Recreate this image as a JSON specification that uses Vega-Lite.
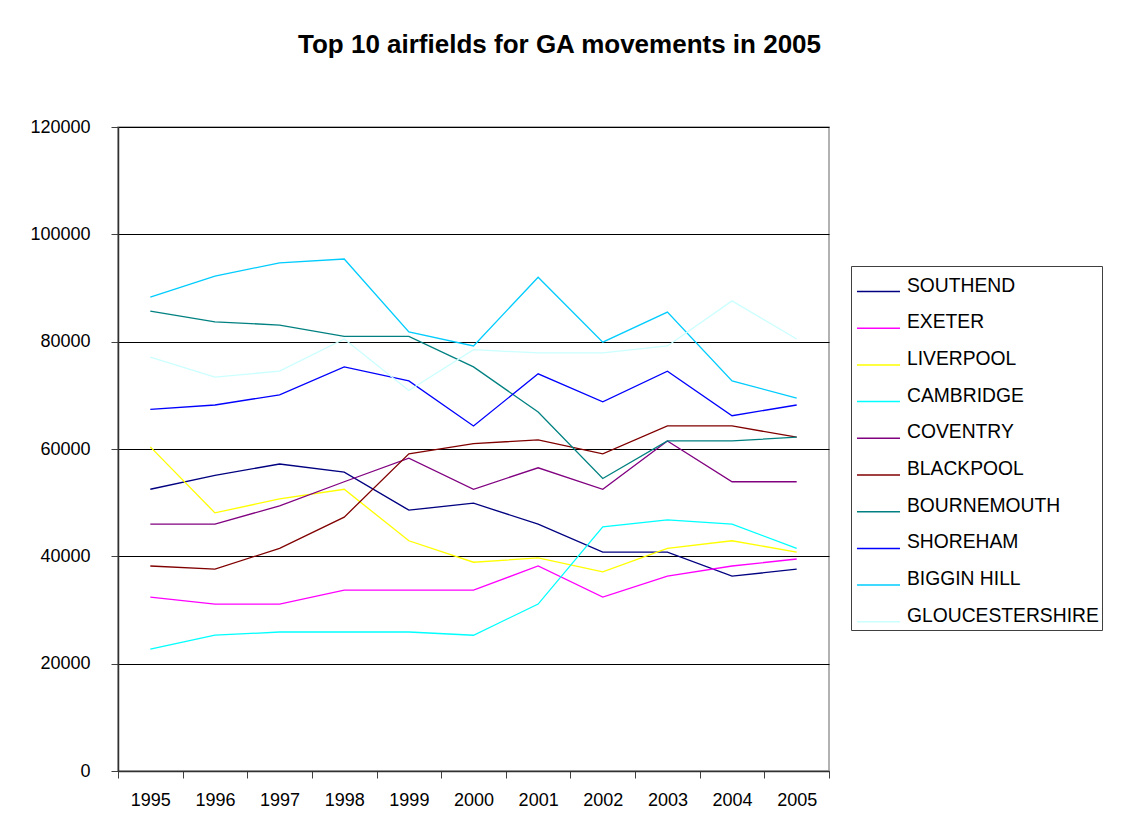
{
  "$schema": "https://vega.github.io/schema/vega-lite/v6.json",
  "autosize": {"type": "none"},
  "padding": {"left": 118, "top": 127, "right": 302, "bottom": 61},
  "width": 711,
  "height": 644,
  "background": "white",
  "title": {
    "text": "Top 10 airfields for GA movements in 2005",
    "font": "Liberation Sans",
    "fontSize": 26,
    "fontWeight": "bold",
    "color": "black",
    "anchor": "middle",
    "frame": "group",
    "dx": 86,
    "baseline": "alphabetic",
    "offset": 39
  },
  "config": {
    "font": "Liberation Sans",
    "view": {"stroke": "#999999", "strokeWidth": 1.5}
  },
  "data": {
    "values": [
      {"airfield": "SOUTHEND", "year": "1995", "movements": 52500},
      {"airfield": "SOUTHEND", "year": "1996", "movements": 55100},
      {"airfield": "SOUTHEND", "year": "1997", "movements": 57200},
      {"airfield": "SOUTHEND", "year": "1998", "movements": 55700},
      {"airfield": "SOUTHEND", "year": "1999", "movements": 48600},
      {"airfield": "SOUTHEND", "year": "2000", "movements": 49900},
      {"airfield": "SOUTHEND", "year": "2001", "movements": 46000},
      {"airfield": "SOUTHEND", "year": "2002", "movements": 40800},
      {"airfield": "SOUTHEND", "year": "2003", "movements": 40800},
      {"airfield": "SOUTHEND", "year": "2004", "movements": 36300},
      {"airfield": "SOUTHEND", "year": "2005", "movements": 37600},
      {"airfield": "EXETER", "year": "1995", "movements": 32400},
      {"airfield": "EXETER", "year": "1996", "movements": 31100},
      {"airfield": "EXETER", "year": "1997", "movements": 31100},
      {"airfield": "EXETER", "year": "1998", "movements": 33700},
      {"airfield": "EXETER", "year": "1999", "movements": 33700},
      {"airfield": "EXETER", "year": "2000", "movements": 33700},
      {"airfield": "EXETER", "year": "2001", "movements": 38200},
      {"airfield": "EXETER", "year": "2002", "movements": 32400},
      {"airfield": "EXETER", "year": "2003", "movements": 36300},
      {"airfield": "EXETER", "year": "2004", "movements": 38200},
      {"airfield": "EXETER", "year": "2005", "movements": 39500},
      {"airfield": "LIVERPOOL", "year": "1995", "movements": 60400},
      {"airfield": "LIVERPOOL", "year": "1996", "movements": 48100},
      {"airfield": "LIVERPOOL", "year": "1997", "movements": 50700},
      {"airfield": "LIVERPOOL", "year": "1998", "movements": 52500},
      {"airfield": "LIVERPOOL", "year": "1999", "movements": 42900},
      {"airfield": "LIVERPOOL", "year": "2000", "movements": 38900},
      {"airfield": "LIVERPOOL", "year": "2001", "movements": 39700},
      {"airfield": "LIVERPOOL", "year": "2002", "movements": 37100},
      {"airfield": "LIVERPOOL", "year": "2003", "movements": 41500},
      {"airfield": "LIVERPOOL", "year": "2004", "movements": 42900},
      {"airfield": "LIVERPOOL", "year": "2005", "movements": 40800},
      {"airfield": "CAMBRIDGE", "year": "1995", "movements": 22700},
      {"airfield": "CAMBRIDGE", "year": "1996", "movements": 25300},
      {"airfield": "CAMBRIDGE", "year": "1997", "movements": 25900},
      {"airfield": "CAMBRIDGE", "year": "1998", "movements": 25900},
      {"airfield": "CAMBRIDGE", "year": "1999", "movements": 25900},
      {"airfield": "CAMBRIDGE", "year": "2000", "movements": 25300},
      {"airfield": "CAMBRIDGE", "year": "2001", "movements": 31100},
      {"airfield": "CAMBRIDGE", "year": "2002", "movements": 45500},
      {"airfield": "CAMBRIDGE", "year": "2003", "movements": 46800},
      {"airfield": "CAMBRIDGE", "year": "2004", "movements": 46000},
      {"airfield": "CAMBRIDGE", "year": "2005", "movements": 41500},
      {"airfield": "COVENTRY", "year": "1995", "movements": 46000},
      {"airfield": "COVENTRY", "year": "1996", "movements": 46000},
      {"airfield": "COVENTRY", "year": "1997", "movements": 49400},
      {"airfield": "COVENTRY", "year": "1998", "movements": 53900},
      {"airfield": "COVENTRY", "year": "1999", "movements": 58300},
      {"airfield": "COVENTRY", "year": "2000", "movements": 52500},
      {"airfield": "COVENTRY", "year": "2001", "movements": 56500},
      {"airfield": "COVENTRY", "year": "2002", "movements": 52500},
      {"airfield": "COVENTRY", "year": "2003", "movements": 61500},
      {"airfield": "COVENTRY", "year": "2004", "movements": 53900},
      {"airfield": "COVENTRY", "year": "2005", "movements": 53900},
      {"airfield": "BLACKPOOL", "year": "1995", "movements": 38200},
      {"airfield": "BLACKPOOL", "year": "1996", "movements": 37600},
      {"airfield": "BLACKPOOL", "year": "1997", "movements": 41500},
      {"airfield": "BLACKPOOL", "year": "1998", "movements": 47300},
      {"airfield": "BLACKPOOL", "year": "1999", "movements": 59100},
      {"airfield": "BLACKPOOL", "year": "2000", "movements": 61000},
      {"airfield": "BLACKPOOL", "year": "2001", "movements": 61700},
      {"airfield": "BLACKPOOL", "year": "2002", "movements": 59100},
      {"airfield": "BLACKPOOL", "year": "2003", "movements": 64300},
      {"airfield": "BLACKPOOL", "year": "2004", "movements": 64300},
      {"airfield": "BLACKPOOL", "year": "2005", "movements": 62200},
      {"airfield": "BOURNEMOUTH", "year": "1995", "movements": 85700},
      {"airfield": "BOURNEMOUTH", "year": "1996", "movements": 83700},
      {"airfield": "BOURNEMOUTH", "year": "1997", "movements": 83100},
      {"airfield": "BOURNEMOUTH", "year": "1998", "movements": 81000},
      {"airfield": "BOURNEMOUTH", "year": "1999", "movements": 81000},
      {"airfield": "BOURNEMOUTH", "year": "2000", "movements": 75300},
      {"airfield": "BOURNEMOUTH", "year": "2001", "movements": 66900},
      {"airfield": "BOURNEMOUTH", "year": "2002", "movements": 54500},
      {"airfield": "BOURNEMOUTH", "year": "2003", "movements": 61500},
      {"airfield": "BOURNEMOUTH", "year": "2004", "movements": 61500},
      {"airfield": "BOURNEMOUTH", "year": "2005", "movements": 62200},
      {"airfield": "SHOREHAM", "year": "1995", "movements": 67400},
      {"airfield": "SHOREHAM", "year": "1996", "movements": 68200},
      {"airfield": "SHOREHAM", "year": "1997", "movements": 70100},
      {"airfield": "SHOREHAM", "year": "1998", "movements": 75300},
      {"airfield": "SHOREHAM", "year": "1999", "movements": 72700},
      {"airfield": "SHOREHAM", "year": "2000", "movements": 64300},
      {"airfield": "SHOREHAM", "year": "2001", "movements": 74000},
      {"airfield": "SHOREHAM", "year": "2002", "movements": 68800},
      {"airfield": "SHOREHAM", "year": "2003", "movements": 74500},
      {"airfield": "SHOREHAM", "year": "2004", "movements": 66200},
      {"airfield": "SHOREHAM", "year": "2005", "movements": 68200},
      {"airfield": "BIGGIN HILL", "year": "1995", "movements": 88300},
      {"airfield": "BIGGIN HILL", "year": "1996", "movements": 92200},
      {"airfield": "BIGGIN HILL", "year": "1997", "movements": 94700},
      {"airfield": "BIGGIN HILL", "year": "1998", "movements": 95400},
      {"airfield": "BIGGIN HILL", "year": "1999", "movements": 81800},
      {"airfield": "BIGGIN HILL", "year": "2000", "movements": 79200},
      {"airfield": "BIGGIN HILL", "year": "2001", "movements": 92000},
      {"airfield": "BIGGIN HILL", "year": "2002", "movements": 79900},
      {"airfield": "BIGGIN HILL", "year": "2003", "movements": 85500},
      {"airfield": "BIGGIN HILL", "year": "2004", "movements": 72700},
      {"airfield": "BIGGIN HILL", "year": "2005", "movements": 69500},
      {"airfield": "GLOUCESTERSHIRE", "year": "1995", "movements": 77100},
      {"airfield": "GLOUCESTERSHIRE", "year": "1996", "movements": 73400},
      {"airfield": "GLOUCESTERSHIRE", "year": "1997", "movements": 74500},
      {"airfield": "GLOUCESTERSHIRE", "year": "1998", "movements": 80500},
      {"airfield": "GLOUCESTERSHIRE", "year": "1999", "movements": 70900},
      {"airfield": "GLOUCESTERSHIRE", "year": "2000", "movements": 78500},
      {"airfield": "GLOUCESTERSHIRE", "year": "2001", "movements": 77900},
      {"airfield": "GLOUCESTERSHIRE", "year": "2002", "movements": 77900},
      {"airfield": "GLOUCESTERSHIRE", "year": "2003", "movements": 79200},
      {"airfield": "GLOUCESTERSHIRE", "year": "2004", "movements": 87600},
      {"airfield": "GLOUCESTERSHIRE", "year": "2005", "movements": 80500}
    ]
  },
  "mark": {"type": "line", "strokeWidth": 1.3},
  "encoding": {
    "x": {
      "field": "year",
      "type": "ordinal",
      "scale": {"type": "band", "paddingInner": 0, "paddingOuter": 0},
      "axis": {
        "title": null,
        "labelAngle": 0,
        "labelFontSize": 18,
        "labelColor": "black",
        "labelPadding": 13,
        "tickBand": "extent",
        "tickSize": 7,
        "tickColor": "#404040",
        "domainColor": "#303030",
        "domainWidth": 1.5,
        "grid": false
      }
    },
    "y": {
      "field": "movements",
      "type": "quantitative",
      "scale": {"domain": [0, 120000], "nice": false, "zero": true},
      "axis": {
        "title": null,
        "values": [0, 20000, 40000, 60000, 80000, 100000, 120000],
        "format": "d",
        "labelFontSize": 18,
        "labelColor": "black",
        "labelPadding": 21,
        "tickSize": 7,
        "tickColor": "#404040",
        "domainColor": "#303030",
        "domainWidth": 1.5,
        "grid": true,
        "gridColor": "black",
        "gridWidth": 1.2,
        "gridOpacity": 1
      }
    },
    "color": {
      "field": "airfield",
      "type": "nominal",
      "scale": {
        "domain": ["SOUTHEND", "EXETER", "LIVERPOOL", "CAMBRIDGE", "COVENTRY", "BLACKPOOL", "BOURNEMOUTH", "SHOREHAM", "BIGGIN HILL", "GLOUCESTERSHIRE"],
        "range": ["#000080", "#FF00FF", "#FFFF00", "#00FFFF", "#800080", "#800000", "#008080", "#0000FF", "#00CCFF", "#CCFFFF"]
      },
      "legend": {
        "title": null,
        "orient": "none",
        "legendX": 733,
        "legendY": 139,
        "symbolType": "stroke",
        "symbolSize": 1849,
        "symbolStrokeWidth": 1.5,
        "labelFontSize": 19.3,
        "labelColor": "black",
        "labelBaseline": "alphabetic",
        "labelOffset": 6,
        "labelLimit": 300,
        "rowPadding": 9.7,
        "padding": 3,
        "symbolOffset": 2,
        "strokeColor": "#404040",
        "fillColor": "white"
      }
    }
  }
}
